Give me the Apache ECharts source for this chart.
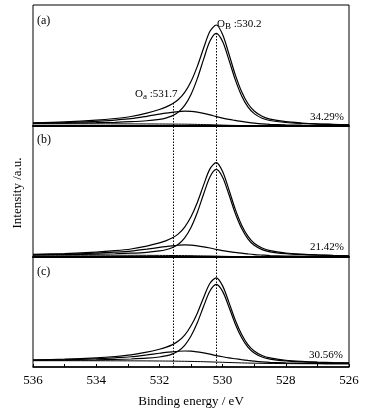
<!DOCTYPE html>
<html><head><meta charset="utf-8">
<script src="https://cdn.jsdelivr.net/npm/echarts@6/dist/echarts.min.js"></script>
<style>html,body{margin:0;padding:0;background:#fff}#c{width:384px;height:414px}</style>
</head><body><div id="c"></div>
<script>
// Binding energies (eV)
const energy = [536,535,534,533.4,532.9,532.4,532,531.8,531.6,531.4,531.2,531,530.8,530.6,530.4,530.2,530,529.8,529.6,529.4,529.2,529,528.75,528.5,528,527.5,527,526.5,526];
const xTicks = [536,534,532,530,528,526];
const peakPositions = [531.55, 530.2];
const panelLabels = ['(a)','(b)','(c)'];
const ratioLabels = ['34.29%','21.42%','30.56%'];

// Panel (a)
const envelopeA = [3.16,4.1,5.8,7.51,9.5,12.85,16.5,18.85,21.9,26.45,33.6,44.5,59.6,77.95,94.7,101,91.5,72.0,51.35,34.45,22.5,14.95,9.7,6.9,4.3,3.0,2.16,1.7,1.3];
const obPeakA = [2.66,2.9,3.3,3.71,4.3,5.25,6.7,7.95,10.1,13.85,20.6,31.6,47.4,66.85,84.9,92.7,84.5,66.1,46.35,30.35,19.2,12.35,7.8,5.5,3.5,2.5,1.86,1.5,1.2];
const oaPeakA = [2.7,3.4,4.7,5.95,7.3,9.65,11.8,12.85,13.7,14.45,14.8,14.6,13.8,12.55,11.1,9.4,7.9,6.6,5.55,4.55,3.7,2.95,2.2,1.7,1.1,0.8,0.6,0.5,0.4];
const backgroundA = [2.2,2.2,2.2,2.15,2.1,2.05,2.0,1.95,1.9,1.85,1.8,1.7,1.6,1.45,1.3,1.1,0.9,0.7,0.55,0.45,0.4,0.35,0.3,0.3,0.3,0.3,0.3,0.3,0.3];

// Panel (b)
const envelopeB = [2.64,3.46,4.89,6.33,8.03,10.88,14.05,16.13,18.96,23.1,29.9,40.2,54.5,72.1,88.1,94.35,85.5,67.25,47.85,32.1,20.85,13.75,9.0,6.35,3.98,2.78,2.03,1.59,1.25];
const obPeakB = [2.24,2.46,2.84,3.23,3.78,4.68,6.05,7.23,9.26,12.8,19.2,29.6,44.5,63.0,80.1,87.55,79.8,62.45,43.75,28.7,18.15,11.65,7.4,5.2,3.33,2.38,1.78,1.44,1.15];
const oaPeakB = [2.2,2.8,3.85,4.85,5.95,7.85,9.6,10.45,11.2,11.75,12.1,11.9,11.2,10.2,9.0,7.65,6.4,5.35,4.55,3.8,3.05,2.4,1.9,1.45,0.95,0.7,0.55,0.45,0.4];
const backgroundB = [1.8,1.8,1.8,1.75,1.7,1.65,1.6,1.55,1.5,1.45,1.4,1.3,1.2,1.1,1.0,0.85,0.7,0.55,0.45,0.4,0.35,0.3,0.3,0.3,0.3,0.3,0.3,0.3,0.3];

// Panel (c)
const envelopeC = [7.09,7.84,9.18,10.52,12.12,14.81,17.75,19.65,22.15,25.95,31.9,41.2,53.85,69.6,83.75,89.15,81.15,64.65,47.05,32.75,22.45,16.05,11.5,9.05,6.76,5.57,4.82,4.37,4.06];
const obPeakC = [6.69,6.89,7.18,7.52,8.02,8.81,10.0,11.05,12.85,16.0,21.6,31.0,44.25,60.8,76.0,82.6,75.6,60.0,43.1,29.5,19.85,14.0,10.0,7.95,6.11,5.17,4.57,4.22,3.96];
const oaPeakC = [6.7,7.25,8.25,9.2,10.25,12.1,13.75,14.55,15.2,15.75,16.0,15.8,15.05,14.1,12.85,11.45,10.25,9.15,8.25,7.35,6.55,5.85,5.15,4.65,4.05,3.7,3.5,3.35,3.3];
const backgroundC = [6.3,6.3,6.25,6.2,6.15,6.1,6.0,5.95,5.9,5.8,5.7,5.6,5.45,5.3,5.1,4.9,4.7,4.5,4.3,4.1,3.95,3.8,3.65,3.55,3.4,3.3,3.25,3.2,3.2];

const panels = [
  {curves:[envelopeA, obPeakA, oaPeakA, backgroundA], top:5, height:121, ymax:121},
  {curves:[envelopeB, obPeakB, oaPeakB, backgroundB], top:126, height:131, ymax:131},
  {curves:[envelopeC, obPeakC, oaPeakC, backgroundC], top:257, height:110, ymax:110}
];

const FONT = '"Liberation Serif","DejaVu Serif",serif';
const chart = echarts.init(document.getElementById('c'), null, {renderer:'canvas'});

const grids = [], xAxes = [], yAxes = [], series = [];
panels.forEach((p, i) => {
  grids.push({left:33, width:316, top:p.top, height:p.height, show:true, borderColor:'#000', borderWidth:1, backgroundColor:'transparent'});
  const last = i === panels.length - 1;
  xAxes.push({
    gridIndex:i, type:'value', min:526, max:536, interval:1, inverse:true,
    axisLine:{show:true, onZero:false, lineStyle:{color:'#000', width:last?1.5:2}},
    axisTick:{show:last, inside:true, length:3, lineStyle:{color:'#000'}},
    axisLabel:{show:last, color:'#000', fontFamily:FONT, fontSize:13, margin:7,
      formatter:v => xTicks.includes(v) ? String(v) : ''},
    splitLine:{show:false},
    name: last ? 'Binding energy / eV' : '', nameLocation:'middle', nameGap:28,
    nameTextStyle:{color:'#000', fontFamily:FONT, fontSize:13}
  });
  yAxes.push({gridIndex:i, type:'value', min:0, max:p.ymax, show:false});
  p.curves.forEach((arr, k) => {
    const s = {
      type:'line', xAxisIndex:i, yAxisIndex:i, smooth:0.3, symbol:'none', silent:true,
      data: energy.map((e, j) => [e, arr[j]]),
      lineStyle:{color:'#000', width:k===3?1:1.2}, z:3
    };
    if (k === 0) {
      const md = i === 0
        ? [[{coord:[peakPositions[0], 23]},{coord:[peakPositions[0], 0]}],
           [{coord:[peakPositions[1], 93]},{coord:[peakPositions[1], 0]}]]
        : peakPositions.map(v => ({xAxis:v}));
      s.markLine = {silent:true, symbol:'none', label:{show:false},
        lineStyle:{color:'#000', type:[1.5,1.5], width:1}, data: md, animation:false};
    }
    series.push(s);
  });
});

const graphic = [
  {type:'text', left:9, top:193, rotation:Math.PI/2, style:{text:'Intensity /a.u.', fill:'#000', font:'13px '+FONT, align:'center', verticalAlign:'middle'}, x:18, y:193, left:null, top:null},
  {type:'text', x:37, y:21, style:{text:panelLabels[0], fill:'#000', font:'12px '+FONT, verticalAlign:'middle'}},
  {type:'text', x:37, y:140, style:{text:panelLabels[1], fill:'#000', font:'12px '+FONT, verticalAlign:'middle'}},
  {type:'text', x:37, y:272, style:{text:panelLabels[2], fill:'#000', font:'12px '+FONT, verticalAlign:'middle'}},
  {type:'text', x:344, y:117, style:{text:ratioLabels[0], fill:'#000', font:'11px '+FONT, align:'right', verticalAlign:'middle'}},
  {type:'text', x:344, y:247, style:{text:ratioLabels[1], fill:'#000', font:'11px '+FONT, align:'right', verticalAlign:'middle'}},
  {type:'text', x:343, y:355, style:{text:ratioLabels[2], fill:'#000', font:'11px '+FONT, align:'right', verticalAlign:'middle'}},
  {type:'text', x:135, y:94, style:{text:'{o|O}{s|a}{t| :531.7}', verticalAlign:'middle',
    rich:{o:{fill:'#000', font:'11px '+FONT}, s:{fill:'#000', font:'9px '+FONT, padding:[6,0,0,0]}, t:{fill:'#000', font:'11px '+FONT}}}},
  {type:'text', x:217, y:24, style:{text:'{o|O}{s|B}{t| :530.2}', verticalAlign:'middle',
    rich:{o:{fill:'#000', font:'11px '+FONT}, s:{fill:'#000', font:'9px '+FONT, padding:[6,0,0,0]}, t:{fill:'#000', font:'11px '+FONT}}}}
];

chart.setOption({
  animation:false,
  backgroundColor:'#fff',
  grid:grids, xAxis:xAxes, yAxis:yAxes, series:series, graphic:graphic
});
</script></body></html>
